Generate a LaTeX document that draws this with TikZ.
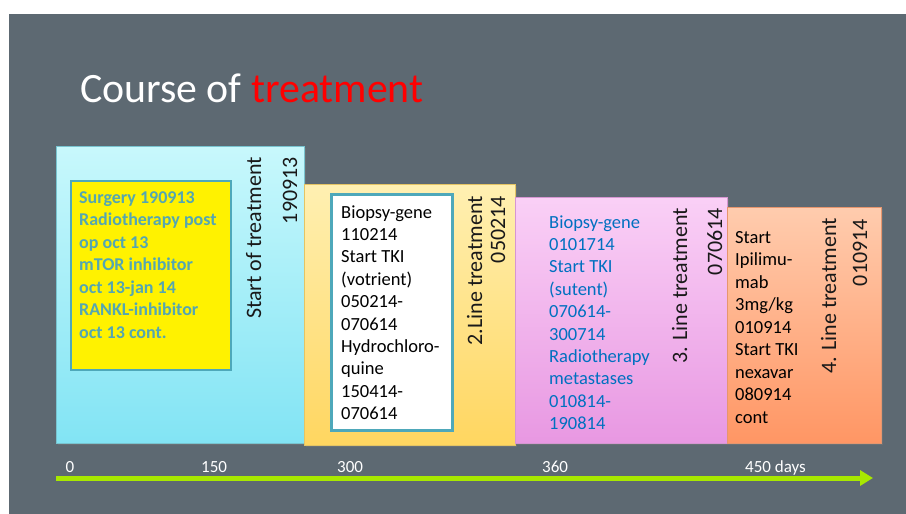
\documentclass[tikz,border=0pt]{standalone}
\usepackage{fontspec}
\setmainfont{Carlito}
\usetikzlibrary{arrows.meta,shadows}
\definecolor{bggray}{RGB}{93,105,114}
\definecolor{axisgreen}{RGB}{168,232,0}
\definecolor{tealtxt}{RGB}{84,166,178}
\definecolor{tealborder}{RGB}{78,168,186}
\definecolor{pptblue}{RGB}{0,112,192}
\definecolor{blueTop}{RGB}{200,248,252}
\definecolor{blueBot}{RGB}{130,228,244}
\definecolor{goldTop}{RGB}{255,240,178}
\definecolor{goldBot}{RGB}{255,214,96}
\definecolor{pinkTop}{RGB}{250,208,246}
\definecolor{pinkBot}{RGB}{232,152,226}
\definecolor{orTop}{RGB}{255,204,174}
\definecolor{orBot}{RGB}{255,150,100}
\newcommand\mytab[2]{\begin{tabular}[t]{@{}#1@{}}#2\end{tabular}}
\tikzset{
  phase/.style={inner sep=0pt, outer sep=0pt, anchor=north west, line width=0.5pt,
    drop shadow={shadow xshift=1.5pt, shadow yshift=-2pt, opacity=0.35}},
  innerbox/.style={inner sep=0pt, outer sep=0pt, anchor=north west, draw=tealborder},
  bodytext/.style={anchor=base west, inner sep=0pt, font=\fontsize{18.5}{22.4}\selectfont},
  vlab/.style={rotate=90, anchor=base east, inner sep=0pt, text={rgb,255:red,25;green,25;blue,25}, font=\fontsize{22}{26}\selectfont},
  axlab/.style={anchor=base west, inner sep=0pt, text=white, font=\fontsize{17}{20}\selectfont},
  axisline/.style={draw=axisgreen, line width=5pt, -{Triangle[length=13pt,width=15pt]}}
}
\begin{document}
\begin{tikzpicture}[x=1pt,y=-1pt]
\useasboundingbox (0,0) rectangle (906,514);
\fill[white] (0,0) rectangle (906,514);
\fill[bggray] (9,14) rectangle (906,514);

\node[anchor=base west, inner sep=0pt, text=white, font=\fontsize{41.8}{50}\selectfont] (title) at (80,102) {Course of \textcolor{red}{treatment}};

% phase boxes
\node[phase, top color=blueTop, bottom color=blueBot, draw={rgb,255:red,120;green,196;blue,208}, minimum width=248pt, minimum height=297pt] (p1) at (56,146) {};
\node[phase, top color=goldTop, bottom color=goldBot, draw={rgb,255:red,228;green,196;blue,100}, minimum width=211pt, minimum height=261pt] (p2) at (304,184) {};
\node[phase, top color=pinkTop, bottom color=pinkBot, draw={rgb,255:red,214;green,150;blue,210}, minimum width=212pt, minimum height=246pt] (p3) at (515,197) {};
\node[phase, top color=orTop, bottom color=orBot, draw={rgb,255:red,230;green,150;blue,110}, minimum width=154pt, minimum height=236pt] (p4) at (727,207) {};

% inner boxes
\node[innerbox, fill=yellow, line width=2.5pt, minimum width=160pt, minimum height=189pt] (b1) at (71,181) {};
\node[innerbox, fill=white, line width=3pt, minimum width=121pt, minimum height=236pt] (b2) at (331,194) {};

% box texts
\node[bodytext, text=tealtxt, font=\fontsize{18}{22.5}\selectfont\bfseries] (t1) at (79,203)
  {\mytab{l}{Surgery 190913\\Radiotherapy post\\op oct 13\\mTOR inhibitor\\oct 13-jan 14\\RANKL-inhibitor\\oct 13 cont.}};
\node[bodytext, text=black] (t2) at (341,218)
  {\mytab{l}{Biopsy-gene\\110214\\Start TKI\\(votrient)\\050214-\\070614\\Hydrochloro-\\quine\\150414-\\070614}};
\node[bodytext, text=pptblue] (t3) at (549,228)
  {\mytab{l}{Biopsy-gene\\0101714\\Start TKI\\(sutent)\\070614-\\300714\\Radiotherapy\\metastases\\010814-\\190814}};
\node[bodytext, text=black, font=\fontsize{18.5}{22.5}\selectfont] (t4) at (735,243)
  {\mytab{l}{Start\\Ipilimu-\\mab\\3mg/kg\\010914\\Start TKI\\nexavar\\080914\\cont}};

% rotated labels
\node[vlab] (l1a) at (261,157) {Start of treatment};
\node[vlab] (l1b) at (297,157) {190913};
\node[vlab] (l2a) at (482,196) {2.Line treatment};
\node[vlab] (l2b) at (505,196) {050214};
\node[vlab] (l3a) at (687,208) {3. Line treatment};
\node[vlab] (l3b) at (722,208) {070614};
\node[vlab] (l4a) at (836,218) {4. Line treatment};
\node[vlab] (l4b) at (867,219) {010914};

% time axis
\coordinate (a0) at (56,478);
\coordinate (a1) at (873,478);
\draw[axisline] (a0) -- (a1);
\node[axlab] (x0) at (65.5,472) {0};
\node[axlab] (x150) at (201,472) {150};
\node[axlab] (x300) at (337,472) {300};
\node[axlab] (x360) at (542,472) {360};
\node[axlab] (x450) at (745,472) {450 days};
\end{tikzpicture}
\end{document}
